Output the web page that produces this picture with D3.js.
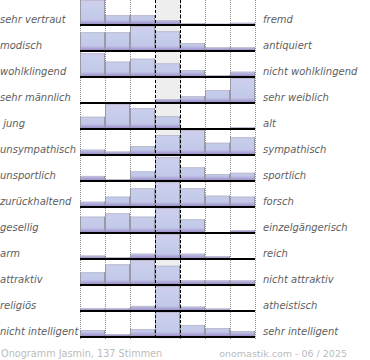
<!DOCTYPE html>
<html>
<head>
<meta charset="utf-8">
<script src="https://cdn.jsdelivr.net/npm/d3@7/dist/d3.min.js"></script>
<style>
  html, body { margin: 0; padding: 0; background: #fff; }
  svg { display: block; }
  text { font-family: "DejaVu Sans", Verdana, sans-serif; }
</style>
</head>
<body>
<svg id="chart" width="370" height="360"></svg>
<script>
const leftLabels = ["sehr vertraut", "modisch", "wohlklingend", "sehr männlich", " jung",
  "unsympathisch", "unsportlich", "zurückhaltend", "gesellig", "arm", "attraktiv",
  "religiös", "nicht intelligent"];
const rightLabels = ["fremd", "antiquiert", "nicht wohlklingend", "sehr weiblich", "alt",
  "sympathisch", "sportlich", "forsch", "einzelgängerisch", "reich", "nicht attraktiv",
  "atheistisch", "sehr intelligent"];
const scaleSteps = [1, 2, 3, 4, 5, 6, 7];
const rowValues = [
  [100, 37, 37, 16, 4, 1, 5],
  [74, 74, 100, 78, 29, 11, 11],
  [95, 60, 72, 53, 24, 4, 18],
  [0, 0, 0, 12, 24, 50, 100],
  [47, 100, 83, 49, 0, 0, 4],
  [18, 10, 33, 79, 100, 47, 70],
  [17, 4, 36, 95, 53, 25, 30],
  [18, 39, 74, 100, 74, 43, 39],
  [64, 78, 64, 100, 53, 0, 8],
  [10, 4, 18, 100, 18, 7, 0],
  [49, 82, 100, 76, 15, 15, 15],
  [7, 7, 17, 100, 14, 6, 0],
  [25, 8, 29, 100, 46, 33, 21]
];
const footerLeft = "Onogramm Jasmin, 137 Stimmen";
const footerRight = "onomastik.com - 06 / 2025";

const svg = d3.select("#chart");

const x = d3.scaleBand().domain(scaleSteps).range([80, 255]).paddingInner(0).paddingOuter(0);
const row = d3.scaleBand().domain(d3.range(leftLabels.length)).range([0, 338]);
const h = d3.scaleLinear().domain([0, 100]).range([0, 24]);
const barBottom = 24;

// gradient
const defs = svg.append("defs");
const grad = defs.append("linearGradient").attr("id", "barGrad")
  .attr("gradientUnits", "userSpaceOnUse").attr("x1", 0).attr("x2", 0).attr("y1", 0).attr("y2", barBottom);
[[0, "#d2cbec"], [0.3, "#c8cfec"], [0.82, "#c2c8e8"], [0.9, "#b4b0de"], [1, "#9c90c8"]]
  .forEach(([o, c]) => grad.append("stop").attr("offset", o).attr("stop-color", c));

const chartBottom = 339;

// middle column background
const mid = scaleSteps[3];
svg.append("rect").attr("x", x(mid)).attr("y", 0).attr("width", x.bandwidth())
  .attr("height", chartBottom).attr("fill", "#eeeeee");

// dotted grid lines
const dottedXs = [x(1), x(2), x(3), x(5), x(6), x(7), x(7) + x.bandwidth()];
svg.append("g").selectAll("line").data(dottedXs).join("line")
  .attr("x1", d => d + 0.5).attr("x2", d => d + 0.5)
  .attr("y1", 0).attr("y2", chartBottom)
  .attr("stroke", "#8a8a8a").attr("stroke-width", 1).attr("stroke-dasharray", "1,1");

// rows
const rows = svg.append("g").selectAll("g.row").data(rowValues).join("g")
  .attr("class", "row")
  .attr("transform", (d, i) => `translate(0,${row(i)})`);

rows.selectAll("rect.bar").data(d => d.map((v, j) => ({ v, step: scaleSteps[j] })))
  .join("rect").attr("class", "bar")
  .attr("x", d => x(d.step)).attr("width", x.bandwidth())
  .attr("y", d => barBottom - h(d.v)).attr("height", d => h(d.v))
  .attr("fill", "url(#barGrad)");

// bar edges
rows.each(function (vals) {
  const g = d3.select(this);
  vals.forEach((v, j) => {
    if (v <= 0) return;
    const x0 = x(scaleSteps[j]), x1 = x0 + x.bandwidth();
    const yt = barBottom - h(v);
    g.append("line").attr("x1", x0).attr("x2", x1).attr("y1", yt + 0.5).attr("y2", yt + 0.5)
      .attr("stroke", "#bcbcd0").attr("stroke-width", 1);
    g.append("line").attr("x1", x0 + 0.5).attr("x2", x0 + 0.5).attr("y1", yt).attr("y2", barBottom)
      .attr("stroke", "#9a9aa6").attr("stroke-width", 1);
    g.append("line").attr("x1", x1 - 0.5).attr("x2", x1 - 0.5).attr("y1", yt).attr("y2", barBottom)
      .attr("stroke", "#9a9aa6").attr("stroke-width", 1);
  });
});

// dashed lines around middle column
svg.append("g").selectAll("line").data([x(mid), x(mid) + x.bandwidth()]).join("line")
  .attr("x1", d => d + 0.5).attr("x2", d => d + 0.5)
  .attr("y1", 0).attr("y2", chartBottom)
  .attr("stroke", "#000").attr("stroke-width", 1).attr("stroke-dasharray", "3,2");

// baselines
svg.append("g").selectAll("line").data(rowValues).join("line")
  .attr("x1", x(1)).attr("x2", x(7) + x.bandwidth())
  .attr("y1", (d, i) => row(i) + 25).attr("y2", (d, i) => row(i) + 25)
  .attr("stroke", "#000").attr("stroke-width", 2);

// labels
svg.append("g").selectAll("text").data(leftLabels).join("text")
  .attr("x", 0).attr("y", (d, i) => row(i) + 23)
  .attr("font-size", 10).attr("font-style", "italic").attr("fill", "#5e5e5e")
  .style("white-space", "pre").attr("xml:space", "preserve")
  .text(d => d);

svg.append("g").selectAll("text").data(rightLabels).join("text")
  .attr("x", 263).attr("y", (d, i) => row(i) + 23)
  .attr("font-size", 10).attr("font-style", "italic").attr("fill", "#5e5e5e")
  .text(d => d);

// footer
svg.append("text").attr("x", 1).attr("y", 357).attr("font-size", 9.7).attr("fill", "#bbbbbb")
  .text(footerLeft);
svg.append("text").attr("x", 347).attr("y", 357).attr("font-size", 9.5).attr("fill", "#bbbbbb")
  .attr("text-anchor", "end").text(footerRight);
</script>
</body>
</html>
